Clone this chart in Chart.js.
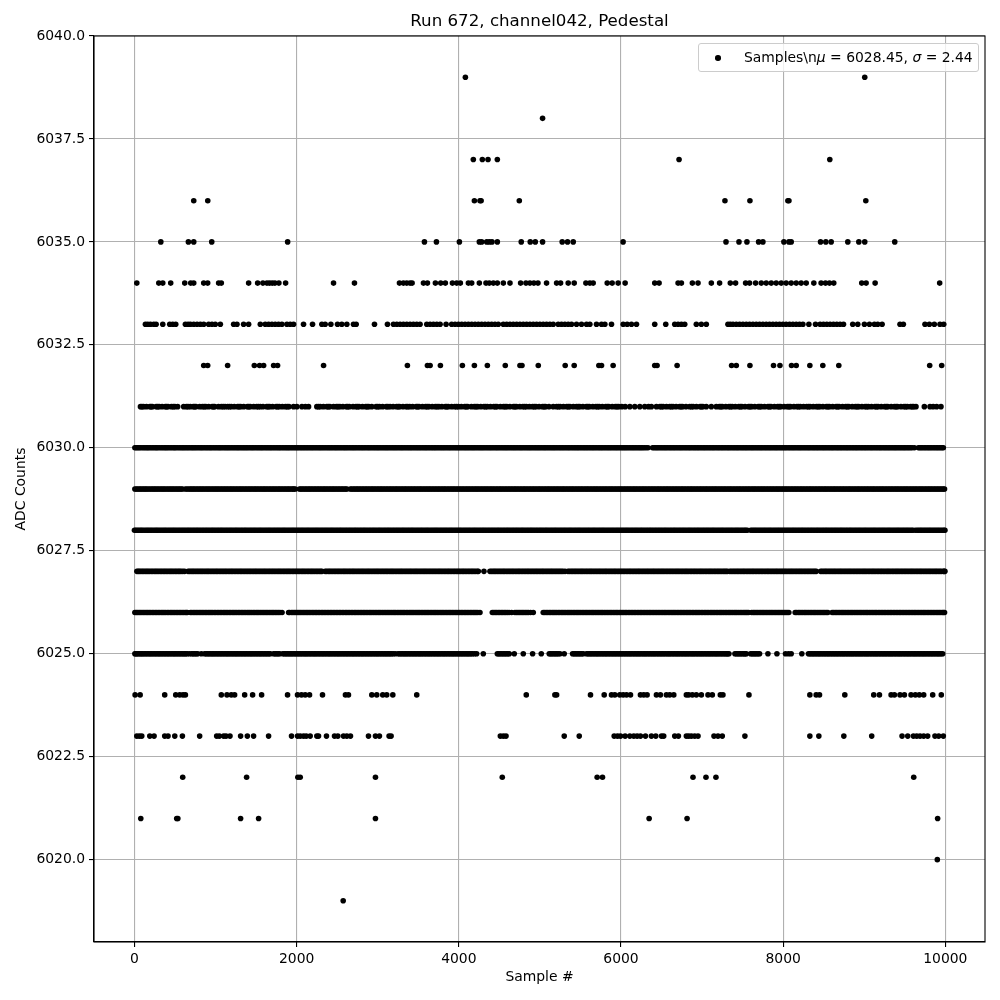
<!DOCTYPE html>
<html>
<head>
<meta charset="utf-8">
<title>Run 672, channel042, Pedestal</title>
<script src="https://cdn.jsdelivr.net/npm/chart.js@4"></script>
<style>
  body { margin: 0; background: #fff; }
  #wrap { position: relative; width: 1000px; height: 1000px; }
  #legend {
    position: absolute; left: 698px; top: 43px; width: 279px; height: 27px;
    border: 1px solid #ccc; border-radius: 3px; background: rgba(255,255,255,0.8);
    font: 13.9px "DejaVu Sans"; color: #000; line-height: 27px; white-space: pre;
  }
  #legend .dot { position: absolute; left: 16px; top: 11px; width: 5.5px; height: 5.5px; border-radius: 50%; background: #000; }
  #legend .txt { position: absolute; left: 45px; top: 0; }
</style>
</head>
<body>
<div id="wrap">
  <canvas id="chart" width="1000" height="1000"></canvas>
  <div id="legend"><span class="dot"></span><span class="txt">Samples\n<i>μ</i> = 6028.45, <i>σ</i> = 2.44</span></div>
</div>
<script>
const xTicks = [0, 2000, 4000, 6000, 8000, 10000];
const yTicks = [6020, 6022.5, 6025, 6027.5, 6030, 6032.5, 6035, 6037.5, 6040];

// sample numbers, one list per ADC level
const s6039 = [4081, 9006];
const s6038 = [5033];
const s6037 = [4179, 4290, 4360, 4475, 6716, 8575];
const s6036 = [731, 904, 4192, 4261, 4275, 4746, 7282, 7590, 8058, 8071, 9019];
const s6035 = [325, 665, 731, 953, 1889, 3576, 3724, 4007, 4253, 4282, 4344, 4376, 4409, 4475, 4770, 4881, 4943, 5033, 5275, 5341, 5411, 6026, 7295, 7455, 7553, 7697, 7750, 8009, 8071, 8099, 8461, 8526, 8592, 8797, 8933, 9006, 9376];
const s6034 = [29, 300, 349, 447, 620, 694, 731, 854, 903, 1038, 1071, 1408, 1519, 1584, 1634, 1666, 1699, 1732, 1781, 1864, 2455, 2713,
  3268, 3317, 3358, 3399, 3424, 3564, 3613, 3711, 3777, 3834, 3921, 3974, 4019, 4118, 4159, 4253, 4335, 4376, 4426, 4475, 4549, 4631, 4762, 4828, 4877, 4926, 4976, 5082, 5206, 5255, 5349, 5423, 5567, 5616, 5657, 5830, 5891, 5965, 6051, 6416, 6470, 6704, 6745,
  6880, 6950, 7114, 7216, 7348, 7413, 7537, 7586, 7660, 7730, 7791, 7853, 7914, 7976, 8037, 8099, 8161, 8222, 8284, 8378, 8468, 8522, 8571, 8624, 8969, 9023, 9134, 9930];
const s6033 = [135, 164, 197, 238, 267, 349, 435, 472, 509, 628, 661, 690, 731, 772, 813, 854, 915, 956, 997, 1059, 1223, 1264, 1346, 1408, 1552, 1613, 1654, 1695, 1736, 1777, 1818, 1880, 1921, 1962, 2085, 2196, 2311, 2352, 2422, 2504, 2557, 2619, 2701, 2734, 2960, 3120,
  3194, 3235, 3276, 3317, 3358, 3399, 3440, 3481, 3522, 3605, 3646, 3687, 3728, 3769, 3843, 3912, 3954, 3995, 4036, 4077, 4118, 4159, 4200, 4241, 4282, 4323, 4364, 4405, 4446, 4487, 4549, 4590, 4631, 4672, 4713, 4754, 4795, 4836, 4877, 4918, 4959, 5000, 5041, 5082, 5123, 5164, 5226, 5267, 5308, 5349, 5390, 5452, 5513, 5575, 5616, 5698, 5760, 5801, 5883, 6027, 6076, 6129, 6191, 6416, 6552, 6663, 6704, 6745, 6786,
  6929, 6991, 7052, 7319, 7348, 7381, 7422, 7463, 7504, 7545, 7586, 7627, 7668, 7709, 7750, 7791, 7832, 7873, 7914, 7955, 7996, 8037, 8079, 8120, 8161, 8202, 8243, 8317, 8399, 8456, 8497, 8538, 8579, 8620, 8661, 8702, 8744, 8858, 8920, 9002, 9064, 9125, 9166, 9220, 9441, 9482, 9749, 9803, 9864, 9934, 9980];
const s6032 = [854, 903, 1149, 1478, 1543, 1593, 1716, 1765, 2332, 3366, 3613, 3646, 3773, 4044, 4192, 4352, 4573, 4754, 4779, 4980, 5312, 5423, 5727, 5760, 5903, 6416, 6445, 6692, 7364, 7422, 7590, 7881, 7960, 8103, 8161, 8329, 8489, 8686, 9807, 9955];
const s6031 = [74, 112, 148, 190, 221, 268, 305, 341, 380, 414, 455, 498, 533, 607, 640, 688, 725, 759, 804, 837, 880, 915, 958, 990, 1036, 1071, 1118, 1149, 1194, 1231, 1272, 1310, 1347, 1392, 1428, 1470, 1507, 1552, 1585, 1630, 1668, 1703, 1747, 1786, 1824, 1862, 1905, 1962, 2003, 2065, 2108, 2147, 2249, 2291, 2330, 2372, 2410, 2455, 2490, 2533, 2570, 2612, 2650, 2695, 2731, 2770, 2812, 2852, 2890, 2927, 2980, 3022, 3060, 3105, 3152,
  3190, 3232, 3270, 3311, 3350, 3395, 3430, 3474, 3510, 3552, 3590, 3632, 3672, 3710, 3755, 3791, 3833, 3870, 3912, 3950, 3995, 4031, 4072, 4110, 4155, 4190, 4233, 4271, 4310, 4352, 4390, 4431, 4470, 4512, 4550, 4592, 4630, 4673, 4711, 4752, 4790, 4833, 4871, 4910, 4952, 4990, 5032, 5070, 5112, 5164, 5206, 5250, 5290, 5331, 5370, 5412, 5450, 5492, 5530, 5572, 5610, 5652, 5690, 5732, 5770, 5812, 5850, 5892, 5930, 5972, 6010, 6052, 6109, 6170, 6232, 6293, 6340, 6375, 6437, 6480, 6520, 6561, 6600, 6642, 6680, 6722, 6760, 6802, 6847,
  6890, 6930, 6975, 7010, 7052, 7114, 7175, 7212, 7250, 7292, 7331, 7372, 7410, 7452, 7491, 7530, 7572, 7611, 7650, 7692, 7731, 7770, 7812, 7850, 7892, 7931, 7970, 8012, 8051, 8090, 8132, 8170, 8212, 8251, 8290, 8332, 8371, 8410, 8452, 8490, 8532, 8571, 8610, 8652, 8690, 8732, 8771, 8810, 8852, 8890, 8932, 8971, 9010, 9052, 9090, 9132, 9171, 9210, 9252, 9290, 9332, 9371, 9410, 9452, 9490, 9532, 9571, 9610, 9638, 9741, 9811, 9850, 9893, 9946];
const s6030 = [5, 38, 71, 112, 148, 181, 220, 258, 290, 331, 369, 402, 441, 480, 512, 553, 590, 625, 662, 701, 735, 772, 811, 845, 884, 921, 955, 994, 1032, 1066, 1105, 1141, 1176, 1214, 1252, 1287, 1325, 1361, 1397, 1436, 1471, 1510, 1547, 1581, 1620, 1657, 1692, 1730, 1768, 1802, 1841, 1878, 1912, 1951, 1989, 2025, 2062, 2098, 2135, 2173, 2208, 2246, 2283, 2318, 2356, 2393, 2429, 2467, 2502, 2540, 2578, 2612, 2650, 2687, 2722, 2760, 2797, 2833, 2871, 2906, 2944, 2981, 3016, 3054, 3091, 3126, 3164, 3201, 3237, 3275, 3310, 3348, 3385, 3420, 3458, 3495, 3531, 3569, 3604, 3642, 3679, 3714, 3752, 3789, 3825, 3863, 3898, 3936, 3973, 4008, 4046, 4083, 4119, 4157, 4192, 4230, 4267, 4302, 4340, 4377, 4413, 4451, 4486, 4524, 4561, 4596, 4634, 4671, 4707, 4745, 4780, 4818, 4855, 4890, 4928, 4965, 5001, 5039, 5074, 5112, 5149, 5184, 5222, 5259, 5295, 5333, 5368, 5406, 5443, 5478, 5516, 5553, 5589, 5627, 5662, 5700, 5737, 5772, 5810, 5847, 5883, 5921, 5956, 5994, 6031, 6066, 6104, 6141, 6177, 6215, 6250, 6288, 6333, 6390, 6428, 6463, 6501, 6538, 6573, 6611, 6648, 6684, 6722, 6757, 6795, 6832, 6867, 6905, 6942, 6978, 7016, 7051, 7089, 7126, 7161, 7199, 7236, 7272, 7310, 7345, 7383, 7420, 7455, 7493, 7530, 7566, 7604, 7639, 7677, 7714, 7749, 7787, 7824, 7860, 7898, 7933, 7971, 8008, 8043, 8081, 8118, 8154, 8192, 8227, 8265, 8302, 8337, 8375, 8412, 8448, 8486, 8521, 8559, 8596, 8631, 8669, 8706, 8742, 8780, 8815, 8853, 8890, 8925, 8963, 9000, 9036, 9074, 9109, 9147, 9184, 9219, 9257, 9294, 9330, 9368, 9403, 9441, 9478, 9513, 9551, 9590, 9618, 9668, 9703, 9741, 9778, 9813, 9851, 9888, 9924, 9975];
const s6029 = [5, 42, 78, 115, 149, 188, 226, 261, 298, 336, 371, 410, 447, 482, 520, 556, 592, 628, 671, 708, 743, 781, 817, 853, 891, 926, 964, 1001, 1036, 1074, 1111, 1147, 1185, 1220, 1258, 1295, 1330, 1368, 1405, 1441, 1479, 1514, 1552, 1589, 1624, 1662, 1699, 1735, 1773, 1808, 1846, 1883, 1918, 1956, 1985, 2035, 2070, 2108, 2145, 2180, 2218, 2255, 2291, 2329, 2364, 2402, 2439, 2474, 2512, 2549, 2585, 2620, 2662, 2700, 2737, 2772, 2810, 2847, 2883, 2921, 2956, 2994, 3031, 3066, 3104, 3141, 3177, 3215, 3250, 3288, 3325, 3360, 3398, 3435, 3471, 3509, 3544, 3582, 3619, 3654, 3692, 3729, 3765, 3803, 3838, 3876, 3913, 3948, 3986, 4023, 4059, 4097, 4132, 4170, 4207, 4242, 4280, 4317, 4353, 4391, 4426, 4464, 4501, 4536, 4574, 4611, 4647, 4685, 4720, 4758, 4795, 4830, 4868, 4905, 4941, 4979, 5014, 5052, 5089, 5124, 5162, 5199, 5235, 5273, 5308, 5346, 5383, 5418, 5456, 5493, 5529, 5567, 5602, 5640, 5677, 5712, 5750, 5787, 5823, 5861, 5896, 5934, 5971, 6006, 6044, 6081, 6117, 6155, 6190, 6228, 6265, 6300, 6338, 6375, 6411, 6449, 6484, 6522, 6559, 6594, 6632, 6669, 6705, 6743, 6778, 6816, 6853, 6888, 6926, 6963, 6999, 7037, 7072, 7110, 7147, 7182, 7220, 7257, 7293, 7331, 7366, 7404, 7441, 7476, 7514, 7551, 7587, 7625, 7660, 7698, 7735, 7770, 7808, 7845, 7881, 7919, 7954, 7992, 8029, 8064, 8102, 8139, 8175, 8213, 8248, 8286, 8323, 8358, 8396, 8433, 8469, 8507, 8542, 8580, 8617, 8652, 8690, 8727, 8763, 8801, 8836, 8874, 8911, 8946, 8984, 9021, 9057, 9095, 9130, 9168, 9205, 9240, 9278, 9315, 9351, 9389, 9424, 9462, 9499, 9534, 9572, 9609, 9645, 9683, 9718, 9756, 9793, 9828, 9866, 9903, 9939, 9990];
const s6028 = [0, 33, 69, 102, 141, 176, 212, 251, 285, 322, 360, 395, 433, 470, 505, 543, 580, 616, 654, 689, 727, 764, 799, 837, 874, 910, 948, 983, 1021, 1058, 1093, 1131, 1168, 1204, 1242, 1277, 1315, 1352, 1387, 1425, 1462, 1498, 1536, 1571, 1609, 1646, 1681, 1719, 1756, 1792, 1830, 1865, 1903, 1940, 1975, 2013, 2050, 2086, 2124, 2159, 2197, 2234, 2269, 2307, 2344, 2380, 2418, 2453, 2491, 2528, 2563, 2601, 2638, 2674, 2712, 2747, 2785, 2822, 2857, 2895, 2932, 2968, 3006, 3041, 3079, 3116, 3151, 3189, 3226, 3262, 3300, 3335, 3373, 3410, 3445, 3483, 3520, 3556, 3594, 3629, 3667, 3704, 3739, 3777, 3814, 3850, 3888, 3923, 3961, 3998, 4033, 4071, 4108, 4144, 4182, 4217, 4255, 4292, 4327, 4365, 4402, 4438, 4476, 4511, 4549, 4586, 4621, 4659, 4696, 4732, 4770, 4805, 4843, 4880, 4915, 4953, 4990, 5026, 5064, 5099, 5137, 5174, 5209, 5247, 5284, 5320, 5358, 5393, 5431, 5468, 5503, 5541, 5578, 5614, 5652, 5687, 5725, 5762, 5797, 5835, 5872, 5908, 5946, 5981, 6019, 6056, 6091, 6129, 6166, 6202, 6240, 6275, 6313, 6350, 6385, 6423, 6460, 6496, 6534, 6569, 6607, 6644, 6679, 6717, 6754, 6790, 6828, 6863, 6901, 6938, 6973, 7011, 7048, 7084, 7122, 7157, 7195, 7232, 7267, 7305, 7342, 7378, 7416, 7451, 7489, 7526, 7558, 7600, 7637, 7672, 7710, 7747, 7783, 7821, 7856, 7894, 7931, 7966, 8004, 8041, 8077, 8115, 8150, 8188, 8225, 8260, 8298, 8335, 8371, 8409, 8444, 8482, 8519, 8554, 8592, 8629, 8665, 8703, 8738, 8776, 8813, 8848, 8886, 8923, 8959, 8997, 9032, 9070, 9107, 9142, 9180, 9217, 9253, 9291, 9326, 9364, 9401, 9436, 9474, 9511, 9547, 9585, 9632, 9672, 9707, 9745, 9782, 9817, 9855, 9892, 9928, 9966, 9995];
const s6027 = [30, 62, 98, 135, 170, 208, 245, 280, 318, 355, 391, 429, 464, 502, 539, 574, 618, 661, 698, 733, 771, 808, 844, 882, 917, 955, 992, 1027, 1065, 1102, 1138, 1176, 1211, 1249, 1286, 1321, 1359, 1396, 1432, 1470, 1505, 1543, 1580, 1615, 1653, 1690, 1726, 1764, 1799, 1837, 1874, 1909, 1947, 1984, 2020, 2058, 2093, 2131, 2168, 2203, 2241, 2278, 2312, 2352, 2390, 2425, 2463, 2500, 2536, 2574, 2609, 2647, 2684, 2719, 2757, 2794, 2830, 2868, 2903, 2941, 2978, 3013, 3051, 3088, 3124, 3162, 3197, 3235, 3272, 3307, 3345, 3382, 3418, 3456, 3491, 3529, 3566, 3601, 3639, 3676, 3712, 3750, 3785, 3823, 3860, 3895, 3933, 3970, 4006, 4044, 4079, 4117, 4154, 4189, 4228, 4241, 4310, 4384, 4422, 4457, 4495, 4532, 4567, 4605, 4642, 4678, 4716, 4751, 4789, 4826, 4861, 4899, 4936, 4972, 5010, 5045, 5083, 5120, 5155, 5193, 5230, 5266, 5310, 5346, 5385, 5422, 5458, 5496, 5531, 5569, 5606, 5641, 5679, 5716, 5752, 5790, 5825, 5863, 5900, 5935, 5973, 6010, 6046, 6084, 6119, 6157, 6194, 6229, 6267, 6304, 6340, 6378, 6413, 6451, 6488, 6523, 6561, 6598, 6634, 6672, 6707, 6745, 6782, 6817, 6855, 6892, 6928, 6966, 7001, 7039, 7076, 7111, 7149, 7186, 7222, 7260, 7295, 7312, 7342, 7380, 7417, 7453, 7491, 7526, 7564, 7601, 7636, 7674, 7711, 7747, 7785, 7820, 7858, 7895, 7930, 7968, 8005, 8041, 8079, 8114, 8152, 8189, 8224, 8262, 8299, 8335, 8373, 8408, 8462, 8500, 8535, 8573, 8610, 8646, 8684, 8719, 8757, 8794, 8829, 8867, 8904, 8940, 8978, 9013, 9051, 9088, 9123, 9161, 9198, 9234, 9272, 9307, 9345, 9382, 9417, 9455, 9492, 9528, 9566, 9601, 9639, 9676, 9711, 9749, 9786, 9822, 9860, 9895, 9933, 9975, 9995];
const s6026 = [5, 38, 73, 110, 147, 182, 220, 257, 293, 331, 366, 404, 441, 476, 514, 551, 587, 625, 652, 690, 728, 764, 802, 837, 875, 912, 947, 985, 1022, 1058, 1096, 1131, 1169, 1206, 1241, 1279, 1316, 1352, 1390, 1425, 1463, 1500, 1535, 1573, 1610, 1646, 1684, 1719, 1757, 1795, 1820, 1901, 1938, 1974, 2012, 2047, 2085, 2122, 2157, 2195, 2232, 2268, 2306, 2341, 2379, 2416, 2451, 2489, 2526, 2562, 2600, 2635, 2673, 2710, 2745, 2783, 2820, 2856, 2894, 2929, 2967, 3004, 3039, 3077, 3114, 3150, 3188, 3223, 3261, 3298, 3333, 3371, 3408, 3444, 3482, 3517, 3555, 3592, 3627, 3665, 3702, 3738, 3776, 3811, 3849, 3886, 3921, 3959, 3996, 4032, 4070, 4105, 4143, 4180, 4215, 4261, 4413, 4450, 4487, 4524, 4560, 4598, 4651, 4692, 4730, 4767, 4803, 4841, 4885, 4918, 5041, 5078, 5116, 5153, 5188, 5226, 5263, 5299, 5337, 5372, 5410, 5447, 5482, 5520, 5557, 5593, 5631, 5666, 5704, 5741, 5776, 5814, 5851, 5887, 5925, 5960, 5998, 6035, 6070, 6108, 6145, 6181, 6219, 6254, 6292, 6329, 6364, 6402, 6439, 6475, 6513, 6548, 6586, 6623, 6658, 6696, 6733, 6769, 6807, 6842, 6880, 6917, 6952, 6990, 7027, 7063, 7101, 7136, 7174, 7211, 7246, 7284, 7321, 7357, 7395, 7430, 7468, 7505, 7540, 7574, 7611, 7648, 7684, 7722, 7757, 7795, 7832, 7867, 7905, 7942, 7978, 8016, 8051, 8070, 8148, 8185, 8221, 8259, 8294, 8332, 8369, 8404, 8442, 8479, 8515, 8551, 8604, 8641, 8677, 8715, 8750, 8788, 8825, 8860, 8898, 8935, 8971, 9009, 9044, 9082, 9119, 9154, 9192, 9229, 9265, 9303, 9338, 9376, 9413, 9448, 9486, 9523, 9559, 9597, 9632, 9670, 9707, 9742, 9780, 9817, 9853, 9891, 9926, 9964, 9990];
const s6025 = [5, 32, 68, 101, 138, 176, 211, 249, 286, 321, 359, 396, 432, 470, 505, 543, 580, 615, 650, 677, 705, 742, 780, 825, 866, 904, 941, 976, 1014, 1051, 1087, 1125, 1160, 1198, 1235, 1270, 1308, 1345, 1381, 1419, 1454, 1492, 1529, 1564, 1602, 1639, 1675, 1716, 1754, 1791, 1830, 1868, 1905, 1940, 1978, 2015, 2051, 2089, 2124, 2162, 2199, 2234, 2272, 2309, 2345, 2383, 2418, 2456, 2493, 2528, 2566, 2603, 2639, 2677, 2712, 2750, 2787, 2822, 2860, 2897, 2933, 2971, 3006, 3044, 3081, 3116, 3152, 3190, 3215, 3250, 3288, 3325, 3360, 3398, 3435, 3471, 3509, 3544, 3582, 3619, 3654, 3692, 3729, 3765, 3803, 3838, 3876, 3913, 3948, 3986, 4023, 4059, 4097, 4132, 4170, 4220, 4302, 4475, 4510, 4548, 4585, 4622, 4684, 4795, 4910, 5017, 5115, 5150, 5188, 5225, 5247, 5300, 5403, 5440, 5478, 5515, 5534, 5575, 5612, 5648, 5686, 5721, 5759, 5796, 5831, 5869, 5906, 5942, 5980, 6015, 6053, 6090, 6125, 6163, 6200, 6236, 6274, 6309, 6347, 6384, 6419, 6457, 6494, 6530, 6568, 6603, 6641, 6678, 6713, 6751, 6788, 6824, 6862, 6897, 6935, 6972, 7007, 7045, 7082, 7118, 7156, 7191, 7229, 7266, 7301, 7331, 7405, 7442, 7478, 7516, 7545, 7598, 7635, 7671, 7709, 7812, 7923, 8029, 8066, 8099, 8230, 8312, 8349, 8385, 8423, 8458, 8496, 8533, 8568, 8606, 8643, 8679, 8717, 8752, 8790, 8827, 8862, 8900, 8937, 8973, 9011, 9046, 9084, 9121, 9156, 9194, 9231, 9267, 9305, 9340, 9378, 9415, 9450, 9488, 9525, 9561, 9599, 9634, 9672, 9709, 9744, 9782, 9819, 9855, 9893, 9928, 9967];
const s6024 = [8, 70, 373, 509, 558, 599, 628, 1071, 1141, 1194, 1235, 1359, 1457, 1568, 1888, 2011, 2060, 2106, 2159, 2319, 2602, 2639, 2927, 2988, 3062, 3111, 3186, 3481, 4832, 5185, 5206, 5624, 5793, 5883, 5924, 5985, 6027, 6068, 6117, 6240, 6281, 6322, 6437, 6486, 6560, 6601, 6651, 6806, 6835, 6880, 6929, 6991, 7073, 7126, 7225, 7257, 7578, 8329, 8407, 8448, 8760, 9117, 9187, 9331, 9372, 9441, 9495, 9577, 9630, 9679, 9733, 9844, 9950];
const s6023 = [29, 61, 90, 189, 242, 373, 414, 497, 591, 804, 1014, 1047, 1100, 1129, 1178, 1309, 1392, 1469, 1654, 1937, 2011, 2044, 2085, 2118, 2167, 2249, 2270, 2368, 2467, 2508, 2578, 2619, 2664, 2886, 2972, 3021, 3140, 3165, 4512, 4549, 4582, 5300, 5485, 5916, 5957, 5994, 6051, 6109, 6158, 6199, 6240, 6302, 6375, 6429, 6499, 6527, 6663, 6708, 6806, 6835, 6868, 6909, 6950, 7147, 7196, 7249, 7528, 8329, 8440, 8748, 9092, 9466, 9536, 9606, 9647, 9688, 9733, 9782, 9872, 9918, 9975];
const s6022 = [595, 1383, 2015, 2044, 2972, 4536, 5706, 5772, 6888, 7048, 7171, 9610];
const s6021 = [78, 521, 535, 1309, 1531, 2972, 6347, 6815, 9905];
const s6020 = [9901];
const s6019 = [2574];

// more samples in the rows that read as solid bars
const more6031 = [92, 205, 287, 396, 478, 660, 742, 860, 975, 1094, 1172, 1290, 1410, 1528, 1648, 1766, 1884, 2270, 2390, 2510, 2630, 2750, 2870, 3000, 3125, 3252, 3370, 3492, 3610, 3732, 3851, 3972, 4091, 4212, 4331, 4452, 4571, 4692, 4812, 4931, 5052, 5228, 5350, 5472, 5591, 5712, 5831, 5951, 6500, 6621, 6741, 6870, 6992, 7232, 7351, 7472, 7591, 7712, 7831, 7951, 8072, 8191, 8312, 8431, 8552, 8671, 8791, 8912, 9031, 9152, 9271, 9392, 9511, 9592];
const more6030 = [21, 55, 92, 130, 165, 201, 239, 274, 311, 350, 386, 421, 460, 496, 533, 572, 607, 644, 681, 718, 753, 792, 828, 865, 902, 938, 975, 1013, 1049, 1085, 1123, 1158, 1195, 1233, 1270, 1306, 1343, 1379, 1416, 1453, 1490, 1528, 1564, 1600, 1638, 1675, 1711, 1749, 1785, 1822, 1860, 1895, 1932, 1970, 2007, 2044, 2080, 2117, 2154, 2190, 2227, 2265, 2300, 2337, 2375, 2411, 2448, 2485, 2521, 2559, 2595, 2631, 2669, 2705, 2741, 2779, 2815, 2852, 2889, 2925, 2963, 2999, 3035, 3073, 3109, 3145, 3183, 3219, 3256, 3293, 3329, 3367, 3403, 3439, 3477, 3513, 3550, 3587, 3623, 3661, 3697, 3733, 3771, 3807, 3844, 3881, 3917, 3955, 3991, 4027, 4065, 4101, 4138, 4175, 4211, 4249, 4285, 4321, 4359, 4395, 4432, 4469, 4505, 4543, 4579, 4615, 4653, 4689, 4726, 4763, 4799, 4837, 4873, 4909, 4947, 4983, 5020, 5057, 5093, 5131, 5167, 5203, 5241, 5277, 5314, 5351, 5387, 5425, 5461, 5497, 5535, 5571, 5608, 5645, 5681, 5719, 5755, 5791, 5829, 5865, 5902, 5939, 5975, 6013, 6049, 6085, 6123, 6159, 6196, 6233, 6269, 6310, 6409, 6445, 6482, 6519, 6555, 6593, 6629, 6665, 6703, 6739, 6776, 6813, 6849, 6887, 6923, 6959, 6997, 7033, 7070, 7107, 7143, 7181, 7217, 7253, 7291, 7327, 7364, 7401, 7437, 7475, 7511, 7547, 7585, 7621, 7658, 7695, 7731, 7769, 7805, 7841, 7879, 7915, 7952, 7989, 8025, 8063, 8099, 8135, 8173, 8209, 8246, 8283, 8319, 8357, 8393, 8429, 8467, 8503, 8540, 8577, 8613, 8651, 8687, 8723, 8761, 8797, 8834, 8871, 8907, 8945, 8981, 9017, 9055, 9091, 9128, 9165, 9201, 9239, 9275, 9311, 9349, 9385, 9422, 9459, 9495, 9533, 9570, 9686, 9722, 9759, 9796, 9832, 9870, 9906, 9943, 9960];
const more6029 = [23, 60, 96, 132, 168, 207, 243, 279, 317, 353, 390, 428, 464, 501, 538, 574, 649, 690, 725, 762, 799, 835, 872, 908, 945, 982, 1018, 1055, 1092, 1129, 1166, 1202, 1239, 1276, 1312, 1349, 1386, 1423, 1460, 1496, 1533, 1570, 1606, 1643, 1680, 1717, 1754, 1790, 1827, 1864, 1900, 1937, 1965, 2052, 2089, 2126, 2162, 2199, 2236, 2273, 2310, 2346, 2383, 2420, 2456, 2493, 2530, 2567, 2604, 2680, 2718, 2754, 2791, 2828, 2865, 2902, 2938, 2975, 3012, 3048, 3085, 3122, 3159, 3196, 3232, 3269, 3306, 3342, 3379, 3416, 3453, 3490, 3526, 3563, 3600, 3636, 3673, 3710, 3747, 3784, 3820, 3857, 3894, 3930, 3967, 4004, 4041, 4078, 4114, 4151, 4188, 4224, 4261, 4298, 4335, 4372, 4408, 4445, 4482, 4518, 4555, 4592, 4629, 4666, 4702, 4739, 4776, 4812, 4849, 4886, 4923, 4960, 4996, 5033, 5070, 5106, 5143, 5180, 5217, 5254, 5290, 5327, 5364, 5400, 5437, 5474, 5511, 5548, 5584, 5621, 5658, 5694, 5731, 5768, 5805, 5842, 5878, 5915, 5952, 5988, 6025, 6062, 6099, 6136, 6172, 6209, 6246, 6282, 6319, 6356, 6393, 6430, 6466, 6503, 6540, 6576, 6613, 6650, 6687, 6724, 6760, 6797, 6834, 6870, 6907, 6944, 6981, 7018, 7054, 7091, 7128, 7164, 7201, 7238, 7275, 7312, 7348, 7385, 7422, 7458, 7495, 7532, 7569, 7606, 7642, 7679, 7716, 7752, 7789, 7826, 7863, 7900, 7936, 7973, 8010, 8046, 8083, 8120, 8157, 8194, 8230, 8267, 8304, 8340, 8377, 8414, 8451, 8488, 8524, 8561, 8598, 8634, 8671, 8708, 8745, 8782, 8818, 8855, 8892, 8928, 8965, 9002, 9039, 9076, 9112, 9149, 9186, 9222, 9259, 9296, 9333, 9370, 9406, 9443, 9480, 9516, 9553, 9590, 9627, 9664, 9700, 9737, 9774, 9810, 9847, 9884, 9921, 9958, 9975];
const more6028 = [16, 51, 85, 121, 158, 194, 231, 268, 303, 341, 377, 414, 451, 487, 524, 561, 598, 635, 671, 708, 745, 781, 818, 855, 892, 929, 965, 1002, 1039, 1075, 1112, 1149, 1186, 1223, 1259, 1296, 1333, 1369, 1406, 1443, 1480, 1517, 1553, 1590, 1627, 1663, 1700, 1737, 1774, 1811, 1847, 1884, 1921, 1957, 1994, 2031, 2068, 2105, 2141, 2178, 2215, 2251, 2288, 2325, 2362, 2399, 2435, 2472, 2509, 2545, 2582, 2619, 2656, 2693, 2729, 2766, 2803, 2839, 2876, 2913, 2950, 2987, 3023, 3060, 3097, 3133, 3170, 3207, 3244, 3281, 3317, 3354, 3391, 3427, 3464, 3501, 3538, 3575, 3611, 3648, 3685, 3721, 3758, 3795, 3832, 3869, 3905, 3942, 3979, 4015, 4052, 4089, 4126, 4163, 4199, 4236, 4273, 4309, 4346, 4383, 4420, 4457, 4493, 4530, 4567, 4603, 4640, 4677, 4714, 4751, 4787, 4824, 4861, 4897, 4934, 4971, 5008, 5045, 5081, 5118, 5155, 5191, 5228, 5265, 5302, 5339, 5375, 5412, 5449, 5485, 5522, 5559, 5596, 5633, 5669, 5706, 5743, 5779, 5816, 5853, 5890, 5927, 5963, 6000, 6037, 6073, 6110, 6147, 6184, 6221, 6257, 6294, 6331, 6367, 6404, 6441, 6478, 6515, 6551, 6588, 6625, 6661, 6698, 6735, 6772, 6809, 6845, 6882, 6919, 6955, 6992, 7029, 7066, 7103, 7139, 7176, 7213, 7249, 7286, 7323, 7360, 7397, 7433, 7470, 7507, 7540, 7618, 7654, 7691, 7728, 7765, 7802, 7838, 7875, 7912, 7948, 7985, 8022, 8059, 8096, 8132, 8169, 8206, 8242, 8279, 8316, 8353, 8390, 8426, 8463, 8500, 8536, 8573, 8610, 8647, 8684, 8720, 8757, 8794, 8830, 8867, 8904, 8941, 8978, 9014, 9051, 9088, 9124, 9161, 9198, 9235, 9272, 9308, 9345, 9382, 9418, 9455, 9492, 9529, 9566, 9602, 9653, 9690, 9726, 9763, 9800, 9836, 9873, 9910, 9947, 9984];
const more6027 = [46, 80, 116, 153, 189, 226, 263, 299, 336, 373, 410, 447, 483, 520, 556, 596, 680, 716, 752, 789, 826, 863, 900, 936, 973, 1010, 1046, 1083, 1120, 1157, 1194, 1230, 1267, 1304, 1340, 1377, 1414, 1451, 1488, 1524, 1561, 1598, 1634, 1671, 1708, 1745, 1782, 1818, 1855, 1892, 1928, 1965, 2002, 2039, 2076, 2112, 2149, 2186, 2222, 2259, 2296, 2370, 2407, 2444, 2481, 2518, 2555, 2591, 2628, 2665, 2701, 2738, 2775, 2812, 2849, 2885, 2922, 2959, 2995, 3032, 3069, 3106, 3143, 3179, 3216, 3253, 3289, 3326, 3363, 3400, 3437, 3473, 3510, 3547, 3583, 3620, 3657, 3694, 3731, 3767, 3804, 3841, 3877, 3914, 3951, 3988, 4025, 4061, 4098, 4135, 4171, 4208, 4403, 4440, 4476, 4513, 4550, 4586, 4623, 4660, 4697, 4734, 4770, 4807, 4844, 4880, 4917, 4954, 4991, 5028, 5064, 5101, 5138, 5174, 5211, 5248, 5285, 5365, 5403, 5440, 5477, 5514, 5550, 5587, 5624, 5660, 5697, 5734, 5771, 5808, 5844, 5881, 5918, 5954, 5991, 6028, 6065, 6102, 6138, 6175, 6212, 6248, 6285, 6322, 6359, 6396, 6432, 6469, 6506, 6542, 6579, 6616, 6653, 6690, 6726, 6763, 6800, 6836, 6873, 6910, 6947, 6984, 7020, 7057, 7094, 7130, 7167, 7204, 7241, 7278, 7360, 7398, 7435, 7472, 7509, 7545, 7582, 7619, 7655, 7692, 7729, 7766, 7803, 7839, 7876, 7913, 7949, 7986, 8023, 8060, 8097, 8133, 8170, 8207, 8243, 8280, 8317, 8354, 8391, 8480, 8518, 8554, 8591, 8628, 8665, 8702, 8738, 8775, 8812, 8848, 8885, 8922, 8959, 8996, 9032, 9069, 9106, 9142, 9179, 9216, 9253, 9290, 9326, 9363, 9400, 9436, 9473, 9510, 9547, 9584, 9620, 9657, 9694, 9730, 9767, 9804, 9841, 9878, 9914, 9951, 9985];
const more6026 = [22, 56, 92, 129, 165, 201, 238, 275, 312, 349, 385, 422, 459, 495, 532, 569, 606, 640, 708, 746, 783, 820, 856, 893, 930, 966, 1003, 1040, 1077, 1114, 1150, 1187, 1224, 1260, 1297, 1334, 1371, 1408, 1444, 1481, 1518, 1554, 1591, 1628, 1665, 1702, 1738, 1775, 1915, 1955, 1992, 2029, 2066, 2103, 2139, 2176, 2213, 2249, 2286, 2323, 2360, 2397, 2433, 2470, 2507, 2543, 2580, 2617, 2654, 2691, 2727, 2764, 2801, 2837, 2874, 2911, 2948, 2985, 3021, 3058, 3095, 3131, 3168, 3205, 3242, 3279, 3315, 3352, 3389, 3425, 3462, 3499, 3536, 3573, 3609, 3646, 3683, 3719, 3756, 3793, 3830, 3867, 3903, 3940, 3977, 4013, 4050, 4087, 4124, 4161, 4198, 4235, 4432, 4468, 4505, 4542, 4579, 4620, 4711, 4748, 4785, 4822, 4860, 5060, 5097, 5134, 5171, 5207, 5244, 5281, 5318, 5355, 5391, 5428, 5465, 5501, 5538, 5575, 5612, 5649, 5685, 5722, 5759, 5795, 5832, 5869, 5906, 5943, 5979, 6016, 6053, 6089, 6126, 6163, 6200, 6237, 6273, 6310, 6347, 6383, 6420, 6457, 6494, 6531, 6567, 6604, 6641, 6677, 6714, 6751, 6788, 6825, 6861, 6898, 6935, 6971, 7008, 7045, 7082, 7119, 7155, 7192, 7229, 7265, 7302, 7339, 7376, 7413, 7449, 7486, 7523, 7556, 7630, 7666, 7703, 7740, 7776, 7813, 7850, 7887, 7924, 7960, 7997, 8034, 8165, 8203, 8240, 8276, 8313, 8350, 8387, 8423, 8460, 8497, 8533, 8622, 8659, 8696, 8733, 8769, 8806, 8843, 8879, 8916, 8953, 8990, 9027, 9063, 9100, 9137, 9173, 9210, 9247, 9284, 9321, 9357, 9394, 9431, 9467, 9504, 9541, 9578, 9615, 9651, 9688, 9725, 9761, 9798, 9835, 9872, 9909, 9945, 9978];
const more6025 = [18, 50, 85, 120, 157, 194, 230, 267, 304, 340, 377, 414, 451, 488, 524, 561, 598, 632, 723, 761, 885, 922, 959, 995, 1032, 1069, 1106, 1143, 1179, 1216, 1253, 1289, 1326, 1363, 1400, 1437, 1473, 1510, 1547, 1583, 1620, 1657, 1735, 1772, 1849, 1886, 1923, 1959, 1996, 2033, 2070, 2107, 2143, 2180, 2217, 2253, 2290, 2327, 2364, 2401, 2437, 2474, 2511, 2547, 2584, 2621, 2658, 2695, 2731, 2768, 2805, 2841, 2878, 2915, 2952, 2989, 3025, 3062, 3099, 3135, 3170, 3269, 3306, 3342, 3379, 3416, 3453, 3490, 3526, 3563, 3600, 3636, 3673, 3710, 3747, 3784, 3820, 3857, 3894, 3930, 3967, 4004, 4041, 4078, 4114, 4151, 4195, 4492, 4529, 4566, 4604, 5132, 5169, 5206, 5422, 5459, 5496, 5594, 5630, 5667, 5704, 5740, 5777, 5814, 5851, 5888, 5924, 5961, 5998, 6034, 6071, 6108, 6145, 6182, 6218, 6255, 6292, 6328, 6365, 6402, 6439, 6476, 6512, 6549, 6586, 6622, 6659, 6696, 6733, 6770, 6806, 6843, 6880, 6916, 6953, 6990, 7027, 7064, 7100, 7137, 7174, 7210, 7247, 7284, 7316, 7424, 7460, 7497, 7530, 7617, 7653, 7690, 8330, 8367, 8404, 8441, 8477, 8514, 8551, 8587, 8624, 8661, 8698, 8735, 8771, 8808, 8845, 8881, 8918, 8955, 8992, 9029, 9065, 9102, 9139, 9175, 9212, 9249, 9286, 9323, 9359, 9396, 9433, 9469, 9506, 9543, 9580, 9617, 9653, 9690, 9727, 9763, 9800, 9837, 9874, 9911, 9947];

const levels = [6039, 6038, 6037, 6036, 6035, 6034, 6033, 6032, 6031, 6030, 6029, 6028, 6027, 6026, 6025, 6024, 6023, 6022, 6021, 6020, 6019];
const samples = [s6039, s6038, s6037, s6036, s6035, s6034, s6033, s6032,
  s6031.concat(more6031), s6030.concat(more6030), s6029.concat(more6029), s6028.concat(more6028),
  s6027.concat(more6027), s6026.concat(more6026), s6025.concat(more6025),
  s6024, s6023, s6022, s6021, s6020, s6019];

const points = [];
levels.forEach((level, i) => {
  samples[i].forEach(x => points.push({ x: x, y: level }));
});

const font = { family: "'DejaVu Sans'", size: 13.9 };

// top and right spines, Chart.js only draws the two axis borders
const frame = {
  id: "frame",
  afterDraw(chart) {
    const a = chart.chartArea, ctx = chart.ctx;
    ctx.save();
    ctx.strokeStyle = "#000";
    ctx.lineWidth = 1.1;
    ctx.strokeRect(a.left, a.top, a.right - a.left, a.bottom - a.top);
    ctx.restore();
  }
};

new Chart(document.getElementById("chart"), {
  type: "scatter",
  plugins: [frame],
  data: {
    datasets: [{
      label: "Samples",
      data: points,
      backgroundColor: "#000",
      borderColor: "#000",
      pointRadius: 2.8,
      pointBorderWidth: 0
    }]
  },
  options: {
    responsive: false,
    animation: false,
    layout: { padding: { right: 15, left: 0, top: 0, bottom: 0 } },
    plugins: {
      legend: { display: false },
      tooltip: { enabled: false },
      title: {
        display: true,
        fullSize: false,
        text: "Run 672, channel042, Pedestal",
        color: "#000",
        font: { family: "'DejaVu Sans'", size: 16.67, weight: "normal" },
        padding: { top: 12, bottom: 4 }
      }
    },
    scales: {
      x: {
        type: "linear",
        min: -499,
        max: 10489,
        afterBuildTicks(scale) { scale.ticks = xTicks.map(v => ({ value: v })); },
        afterFit(scale) { scale.height = 58; },
        title: { display: true, text: "Sample #", color: "#000", font: font, padding: { top: 5, bottom: 14 } },
        ticks: { color: "#000", font: font, padding: 4, maxRotation: 0, autoSkip: false, callback: v => String(v) },
        grid: { color: "#b0b0b0", lineWidth: 1.1, tickColor: "#000", tickLength: 5 },
        border: { color: "#000", width: 1.1 }
      },
      y: {
        min: 6018,
        max: 6040,
        afterBuildTicks(scale) { scale.ticks = yTicks.map(v => ({ value: v })); },
        afterFit(scale) { scale.width = 94; },
        title: { display: true, text: "ADC Counts", color: "#000", font: font, padding: { top: 13, bottom: 0 } },
        ticks: { color: "#000", font: font, padding: 4, autoSkip: false, callback: v => v.toFixed(1) },
        grid: { color: "#b0b0b0", lineWidth: 1.1, tickColor: "#000", tickLength: 5 },
        border: { color: "#000", width: 1.1 }
      }
    }
  }
});
</script>
</body>
</html>
